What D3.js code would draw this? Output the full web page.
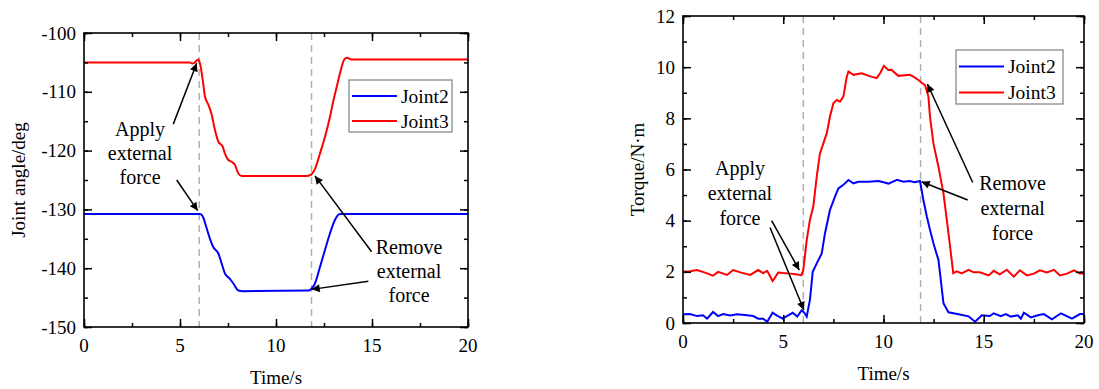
<!DOCTYPE html>
<html>
<head>
<meta charset="utf-8">
<script src="https://cdn.jsdelivr.net/npm/d3@7"></script>
<style>
  body { margin: 0; background: #fff; }
  svg text { font-family: "Liberation Serif", "Times New Roman", serif; fill: #000; }
</style>
</head>
<body>
<svg id="chart" width="1099" height="389"></svg>
<script>
// time ticks shared by both panels
var timeTicks = [0, 5, 10, 15, 20];
var angleTicks = [-150, -140, -130, -120, -110, -100];
var torqueTicks = [0, 2, 4, 6, 8, 10, 12];
// moments when the force is applied / removed (dashed lines)
var forceTimes = [6.0, 11.85];
var seriesNames = ["Joint2", "Joint3"];

// joint angle, deg  [t, value]
var angleJoint2 = [[0,-130.8],[6.04,-130.8],[6.2,-131.3],[6.37,-133],[6.56,-135],[6.73,-136.4],[7.0,-137.5],
  [7.17,-139.2],[7.34,-140.9],[7.6,-141.8],[7.78,-142.6],[8.04,-143.8],[8.3,-143.9],[11.7,-143.8],[11.85,-143.5],
  [12.03,-142.6],[12.29,-139.8],[12.55,-136.9],[12.81,-134.1],[13.07,-131.8],[13.33,-130.8],[20,-130.8]];
var angleJoint3 = [[0,-105],[5.5,-105],[5.65,-105.2],[5.8,-104.9],[5.95,-104.5],[6.05,-105.3],[6.21,-108.6],
  [6.3,-110.8],[6.48,-112.2],[6.65,-113.9],[6.82,-116.5],[7.0,-118.5],[7.22,-119.3],[7.34,-120.5],[7.52,-121.6],
  [7.69,-121.9],[7.86,-122.4],[8.04,-123.9],[8.21,-124.3],[11.6,-124.3],[11.77,-124.2],[12.03,-123.1],
  [12.29,-120.5],[12.55,-117.7],[12.81,-114.3],[12.99,-111.5],[13.16,-109.2],[13.33,-106.9],[13.54,-104.6],
  [13.68,-104.2],[13.94,-104.5],[20,-104.5]];

// torque, N·m  [t, value]
var torqueJoint2 = [[0,0.34],[0.35,0.35],[0.7,0.27],[1.0,0.3],[1.2,0.17],[1.5,0.43],[1.75,0.27],[2.0,0.35],
  [2.35,0.29],[2.7,0.34],[3.2,0.3],[3.5,0.27],[3.75,0.17],[4.0,0.17],[4.2,0.05],[4.47,0.4],[4.67,0.3],[4.97,0.17],
  [5.25,0.3],[5.47,0.4],[5.7,0.25],[5.92,0.5],[6.05,0.4],[6.17,0.25],[6.33,0.9],[6.47,2.0],[6.67,2.33],[6.92,2.72],
  [7.08,3.5],[7.33,4.42],[7.58,4.94],[7.75,5.26],[8.0,5.4],[8.25,5.59],[8.5,5.46],[8.75,5.52],[9.25,5.52],
  [9.75,5.55],[10.0,5.5],[10.25,5.45],[10.67,5.6],[11.0,5.52],[11.3,5.55],[11.55,5.5],[11.82,5.55],[11.99,4.81],
  [12.16,4.16],[12.32,3.64],[12.49,3.12],[12.74,2.46],[12.82,1.94],[12.99,0.77],[13.24,0.42],[13.74,0.34],
  [14.24,0.26],[14.57,0.05],[14.9,0.3],[15.3,0.27],[15.5,0.38],[15.85,0.27],[16.1,0.35],[16.35,0.25],[16.7,0.3],
  [16.85,0.17],[17.0,0.4],[17.35,0.22],[17.7,0.3],[18.0,0.35],[18.4,0.14],[18.85,0.38],[19.4,0.17],[19.8,0.35],
  [20,0.35]];
var torqueJoint3 = [[0,2.0],[0.35,2.02],[0.7,2.07],[1.1,1.97],[1.5,1.85],[1.75,2.0],[2.2,1.88],[2.5,2.07],
  [2.9,1.97],[3.35,1.88],[3.75,2.07],[4.0,1.95],[4.2,2.04],[4.47,1.64],[4.75,1.97],[5.0,1.95],[5.35,1.93],
  [5.7,1.9],[5.9,1.86],[6.0,2.07],[6.17,3.24],[6.33,4.03],[6.5,4.55],[6.67,5.72],[6.83,6.63],[7.0,7.02],
  [7.17,7.41],[7.33,8.07],[7.5,8.59],[7.67,8.72],[7.83,8.65],[8.0,8.85],[8.16,9.6],[8.25,9.83],[8.33,9.79],
  [8.5,9.7],[8.91,9.76],[9.3,9.65],[9.66,9.57],[9.83,9.76],[10.02,10.05],[10.24,9.89],[10.39,9.9],[10.74,9.66],
  [11.32,9.7],[11.49,9.63],[11.74,9.5],[11.9,9.39],[12.07,9.3],[12.24,8.85],[12.32,8.06],[12.49,7.02],
  [12.74,6.11],[12.99,5.07],[13.24,3.51],[13.48,1.95],[13.65,2.02],[13.9,1.94],[14.24,2.08],[14.5,1.98],
  [14.8,1.98],[15.25,1.86],[15.5,2.04],[15.8,1.9],[16.15,2.08],[16.5,1.81],[16.8,2.06],[17.15,1.86],[17.5,1.93],
  [17.8,2.06],[18.15,1.98],[18.5,2.08],[18.8,1.86],[19.15,1.93],[19.5,2.06],[19.8,1.93],[20,1.93]];

// annotation text and arrows, in data units: [tailT, tailV, tipT, tipV]
var noteLines = ["Apply", "external", "force"];
var noteLines2 = ["Remove", "external", "force"];
var angleNotes = [{ at: [2.92, -117.5], lines: noteLines }, { at: [16.93, -137.6], lines: noteLines2 }];
var angleArrows = [[4.65,-115.5,5.87,-105.15],[4.83,-125,5.92,-130.2],[14.98,-137.2,12.03,-124.3],[14.81,-142.2,11.86,-143.6]];
var torqueNotes = [{ at: [2.84, 5.79], lines: noteLines }, { at: [16.44, 5.2], lines: noteLines2 }];
var torqueArrows = [[4.42,4.0,5.8,2.07],[4.34,3.73,6.03,0.51],[14.45,5.49,12.19,9.34],[14.2,4.81,11.9,5.52]];

var colors = ["#0000ff", "#ff0000"];
var svg = d3.select("#chart");

svg.append("defs").append("marker")
  .attr("id", "arrow").attr("viewBox", "0 0 10 10")
  .attr("refX", 10).attr("refY", 5)
  .attr("markerWidth", 12).attr("markerHeight", 8)
  .attr("markerUnits", "userSpaceOnUse")
  .attr("orient", "auto")
  .append("path").attr("d", "M0,0 L10,5 L0,10 Z").attr("fill", "#000");

function drawPanel(opt) {
  var x = d3.scaleLinear().domain([0, 20]).range([opt.left, opt.right]);
  var y = d3.scaleLinear().domain(opt.yDomain).range([opt.bottom, opt.top]);
  var g = svg.append("g");

  // dashed force lines
  g.selectAll(".force").data(forceTimes).enter().append("line")
    .attr("x1", d => x(d)).attr("x2", d => x(d))
    .attr("y1", opt.top).attr("y2", opt.bottom)
    .attr("stroke", "#b0b0b0").attr("stroke-width", 1.5).attr("stroke-dasharray", "7,5");

  var line = d3.line().x(d => x(d[0])).y(d => y(d[1])).curve(opt.curve);
  opt.series.forEach(function (s, i) {
    g.append("path").attr("d", line(s)).attr("fill", "none")
      .attr("stroke", colors[i]).attr("stroke-width", 2);
  });

  // axes, ticks pointing inward on every side
  var minorX = d3.range(0, 20.01, 2.5);
  var yStep = opt.yTicks[1] - opt.yTicks[0];
  var minorY = d3.range(opt.yDomain[0], opt.yDomain[1] + 0.01, yStep / 2);
  function axes(gen, pos, isMinor) {
    return gen.tickSize(isMinor ? 4 : 8).tickFormat(isMinor ? "" : null);
  }
  g.append("g").attr("transform", "translate(0," + opt.bottom + ")")
    .call(d3.axisTop(x).tickValues(minorX).tickSize(4).tickFormat(""));
  g.append("g").attr("transform", "translate(0," + opt.bottom + ")")
    .call(d3.axisTop(x).tickValues(timeTicks).tickSize(8).tickFormat(""));
  g.append("g").attr("transform", "translate(0," + opt.top + ")")
    .call(d3.axisBottom(x).tickValues(minorX).tickSize(4).tickFormat(""));
  g.append("g").attr("transform", "translate(0," + opt.top + ")")
    .call(d3.axisBottom(x).tickValues(timeTicks).tickSize(8).tickFormat(""));
  g.append("g").attr("transform", "translate(" + opt.left + ",0)")
    .call(d3.axisRight(y).tickValues(minorY).tickSize(4).tickFormat(""));
  g.append("g").attr("transform", "translate(" + opt.left + ",0)")
    .call(d3.axisRight(y).tickValues(opt.yTicks).tickSize(8).tickFormat(""));
  g.append("g").attr("transform", "translate(" + opt.right + ",0)")
    .call(d3.axisLeft(y).tickValues(minorY).tickSize(4).tickFormat(""));
  g.append("g").attr("transform", "translate(" + opt.right + ",0)")
    .call(d3.axisLeft(y).tickValues(opt.yTicks).tickSize(8).tickFormat(""));
  g.selectAll(".domain").remove();
  g.selectAll(".tick line").attr("stroke", "#000").attr("stroke-width", 1.5);

  g.append("rect").attr("x", opt.left).attr("y", opt.top)
    .attr("width", opt.right - opt.left).attr("height", opt.bottom - opt.top)
    .attr("fill", "none").attr("stroke", "#000").attr("stroke-width", 1.6);

  // tick labels
  g.selectAll(".xl").data(timeTicks).enter().append("text")
    .attr("x", d => x(d)).attr("y", opt.bottom + 25)
    .attr("text-anchor", "middle").attr("font-size", 19).text(d => d);
  g.selectAll(".yl").data(opt.yTicks).enter().append("text")
    .attr("x", opt.left - 8).attr("y", d => y(d) + 6.5)
    .attr("text-anchor", "end").attr("font-size", 19).text(d => String(d).replace("-", "-"));

  // axis titles
  g.append("text").attr("x", (opt.left + opt.right) / 2).attr("y", opt.bottom + 57)
    .attr("text-anchor", "middle").attr("font-size", 19).text("Time/s");
  g.append("text")
    .attr("transform", "translate(" + opt.yTitleX + "," + (opt.top + opt.bottom) / 2 + ") rotate(-90)")
    .attr("text-anchor", "middle").attr("dy", "0.35em").attr("font-size", 19).text(opt.yTitle);

  // legend
  var lg = g.append("g").attr("transform", "translate(" + opt.legend[0] + "," + opt.legend[1] + ")");
  lg.append("rect").attr("width", opt.legend[2]).attr("height", opt.legend[3])
    .attr("fill", "#fff").attr("stroke", "#808080").attr("stroke-width", 1.2);
  seriesNames.forEach(function (n, i) {
    var yy = opt.legend[3] * (0.27 + 0.48 * i) + 2;
    lg.append("line").attr("x1", 3).attr("x2", opt.legend[4]).attr("y1", yy).attr("y2", yy)
      .attr("stroke", colors[i]).attr("stroke-width", 2);
    lg.append("text").attr("x", opt.legend[4] + 4).attr("y", yy + 6.5)
      .attr("font-size", 19.5).text(n);
  });

  // annotations
  opt.notes.forEach(function (nt) {
    var t = g.append("text").attr("text-anchor", "middle").attr("font-size", 20);
    nt.lines.forEach(function (l, i) {
      t.append("tspan").attr("x", x(nt.at[0])).attr("y", y(nt.at[1]) + i * opt.lineGap).text(l);
    });
  });
  g.selectAll(".arr").data(opt.arrows).enter().append("line")
    .attr("x1", d => x(d[0])).attr("y1", d => y(d[1]))
    .attr("x2", d => x(d[2])).attr("y2", d => y(d[3]))
    .attr("stroke", "#000").attr("stroke-width", 1.5).attr("marker-end", "url(#arrow)");
}

drawPanel({
  left: 84, right: 468, top: 33, bottom: 327,
  yDomain: [-150, -100], yTicks: angleTicks, series: [angleJoint2, angleJoint3],
  curve: d3.curveMonotoneX, yTitle: "Joint angle/deg", yTitleX: 18,
  legend: [349, 80, 103, 52, 48], notes: angleNotes, arrows: angleArrows, lineGap: 24
});
drawPanel({
  left: 683, right: 1084, top: 16, bottom: 323,
  yDomain: [0, 12], yTicks: torqueTicks, series: [torqueJoint2, torqueJoint3],
  curve: d3.curveLinear, yTitle: "Torque/N·m", yTitleX: 637,
  legend: [956, 50, 107, 54, 48], notes: torqueNotes, arrows: torqueArrows, lineGap: 25
});
</script>
</body>
</html>
